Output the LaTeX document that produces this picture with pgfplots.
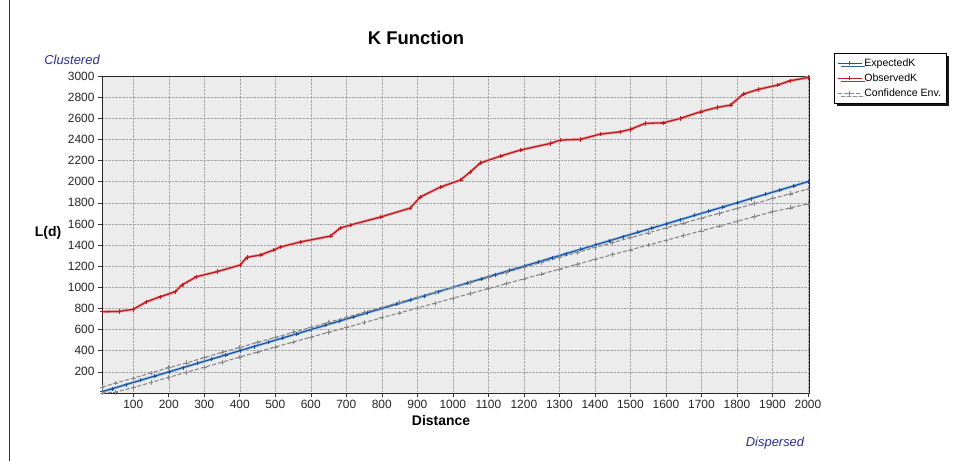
\documentclass[border=0pt]{standalone}
\usepackage{pgfplots}
\pgfplotsset{compat=1.18}
\usepackage{fontspec}
\setmainfont{Liberation Sans}
\usetikzlibrary{shadows}
\definecolor{expblue}{RGB}{28,80,160}
\definecolor{expglow}{RGB}{165,200,235}
\definecolor{obsred}{RGB}{190,28,32}
\definecolor{obsglow}{RGB}{230,165,165}
\definecolor{envgray}{RGB}{135,135,135}
\definecolor{bggray}{RGB}{236,236,236}
\definecolor{navytxt}{RGB}{45,45,140}
\pgfplotstableread{
x y
12 12
40 40
80 80
120 120
160 160
200 200
240 240
280 280
320 320
360 360
400 400
440 440
480 480
520 520
560 560
600 600
640 640
680 680
720 720
760 760
800 800
840 840
880 880
920 920
960 960
1000 1000
1040 1040
1080 1080
1120 1120
1160 1160
1200 1200
1240 1240
1280 1280
1320 1320
1360 1360
1400 1400
1440 1440
1480 1480
1520 1520
1560 1560
1600 1600
1640 1640
1680 1680
1720 1720
1760 1760
1800 1800
1840 1840
1880 1880
1920 1920
1960 1960
2000 2000
}\expected
\pgfplotstableread{
x y
12 769
60 772
100 792
138 864
176 911
218 958
237 1022
278 1100
336 1148
401 1211
420 1284
458 1306
495 1353
514 1381
570 1429
655 1485
683 1561
711 1589
796 1665
880 1750
908 1854
965 1949
1021 2015
1049 2091
1077 2176
1134 2242
1190 2299
1275 2362
1303 2394
1359 2400
1415 2450
1472 2472
1500 2495
1542 2552
1593 2557
1641 2599
1697 2661
1745 2703
1782 2725
1818 2829
1860 2873
1914 2914
1950 2955
2000 2985
}\observed
\begin{document}
\begin{tikzpicture}[x=1bp,y=1bp]
\useasboundingbox (0,0) rectangle (971,-461);
\fill[white] (0,0) rectangle (971,-461);
\draw[black!80, line width=1bp] (9,0) -- (9,-461);
\begin{axis}[
  at={(102bp,-393bp)}, anchor=south west,
  scale only axis, width=707bp, height=317bp,
  xmin=12, xmax=2003, ymin=0, ymax=3000,
  xtick={100,200,...,2000}, ytick={200,400,...,3000},
  axis background/.style={fill=bggray},
  axis line style={black!85, line width=0.9bp},
  grid=major, major grid style={densely dotted, black!35, line width=0.5bp},
  tick style={black!80, line width=0.6bp},
  tick align=outside, major tick length=4bp,
  xtick pos=bottom, ytick pos=left,
  tick label style={font=\fontsize{12}{13}\selectfont, text=black!85},
  /pgf/number format/assume math mode=true,
  /pgf/number format/1000 sep={},
  legend style={at={(1.035,1.0726)}, anchor=north west,
    font=\fontsize{10.6}{12}\selectfont, draw=black, line width=0.6bp,
    fill=white, inner xsep=3bp, inner ysep=3.5bp, row sep=1.8bp,
    drop shadow={shadow xshift=3bp, shadow yshift=-3bp, fill=black, opacity=0.9}},
  legend cell align=left,
  legend image code/.code={\draw[mark repeat=2, mark phase=2, #1] plot coordinates {(0bp,0bp) (12bp,0bp) (24bp,0bp)};},
]
\addplot[expglow, line width=2.8bp, forget plot] table[x=x,y=y] {\expected};
\addplot[obsglow, line width=2.8bp, forget plot] table[x=x,y=y] {\observed};
\addplot[expblue, line width=1.2bp, mark=+, mark size=2bp,
  mark options={solid, line width=0.5bp}] table[x=x,y=y] {\expected};
\addlegendentry{ExpectedK}
\addplot[obsred, line width=1.3bp, mark=+, mark size=2.2bp,
  mark options={solid, line width=0.6bp}] table[x=x,y=y] {\observed};
\addlegendentry{ObservedK}
\addplot[envgray, line width=1.1bp, dash pattern=on 4bp off 2bp, mark=+, mark size=2.4bp,
  mark options={solid, line width=0.6bp}] coordinates {
(12,55) (50,95) (100,140) (150,190) (200,240) (250,285) (300,335) (350,385) (400,430) (450,480)
(500,525) (550,575) (600,620) (650,670) (700,715) (750,765) (800,810) (850,858) (900,905) (950,952)
(1000,998) (1050,1045) (1100,1092) (1150,1140) (1200,1188) (1250,1236) (1300,1283) (1350,1330) (1400,1377) (1450,1423)
(1500,1470) (1550,1516) (1600,1562) (1650,1608) (1700,1655) (1750,1700) (1800,1746) (1850,1792) (1900,1840) (1950,1885)
(2000,1930)};
\addlegendentry{Confidence Env.}
\addplot[envgray, line width=1.1bp, dash pattern=on 4bp off 2bp, mark=+, mark size=2.4bp,
  mark options={solid, line width=0.6bp}, forget plot] coordinates {
(12,0) (50,8) (100,52) (150,100) (200,148) (250,196) (300,244) (350,292) (400,340) (450,388)
(500,436) (550,482) (600,528) (650,574) (700,620) (750,666) (800,712) (850,758) (900,804) (950,850)
(1000,896) (1050,942) (1100,988) (1150,1034) (1200,1080) (1250,1126) (1300,1172) (1350,1218) (1400,1264) (1450,1310)
(1500,1355) (1550,1400) (1600,1445) (1650,1490) (1700,1535) (1750,1580) (1800,1625) (1850,1670) (1900,1715) (1950,1752)
(2000,1790)};
\end{axis}
\node[font=\fontsize{18.5}{20}\selectfont\bfseries] at (416,-38) {K Function};
\node[font=\fontsize{13}{14}\selectfont\itshape, text=navytxt] at (72,-60) {Clustered};
\node[font=\fontsize{13}{14}\selectfont\itshape, text=navytxt] at (775,-443) {Dispersed};
\node[font=\fontsize{14}{15}\selectfont\bfseries] at (48,-233) {L(d)};
\node[font=\fontsize{14}{15}\selectfont\bfseries] at (441,-421) {Distance};
\end{tikzpicture}
\end{document}
